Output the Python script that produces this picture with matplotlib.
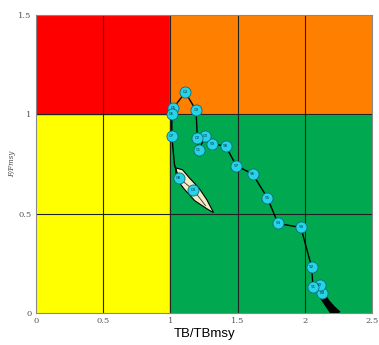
import matplotlib
matplotlib.use("Agg")
import matplotlib.pyplot as plt
from matplotlib.patches import Polygon

# stock trajectory (TB/TBmsy, F/Fmsy) with year labels
tb = [2.13, 2.11, 2.06, 2.05, 1.97, 1.80, 1.72, 1.61, 1.49, 1.41, 1.31,
      1.26, 1.21, 1.20, 1.19, 1.11, 1.02, 1.01, 1.01, 1.06, 1.17]
ff = [0.10, 0.14, 0.13, 0.23, 0.43, 0.45, 0.58, 0.70, 0.74, 0.84, 0.85,
      0.89, 0.82, 0.88, 1.02, 1.11, 1.03, 1.00, 0.89, 0.68, 0.62]
years = ["89", "90", "91", "92", "93", "94", "95", "96", "97", "98", "99",
         "00", "01", "02", "03", "04", "05", "06", "07", "08", "09"]

# early-years cloud (black) and final year uncertainty (cream)
early_tb = [2.09, 2.12, 2.14, 2.18, 2.22, 2.26, 2.23, 2.19, 2.15, 2.12, 2.10]
early_ff = [0.12, 0.12, 0.10, 0.06, 0.03, 0.005, 0.0, 0.0, 0.04, 0.07, 0.10]
final_tb = [1.04, 1.09, 1.14, 1.21, 1.27, 1.32, 1.28, 1.18, 1.10, 1.05, 1.04]
final_ff = [0.73, 0.72, 0.68, 0.63, 0.57, 0.505, 0.52, 0.565, 0.625, 0.67, 0.70]
lead_tb = [1.01, 1.03, 1.06]
lead_ff = [0.89, 0.745, 0.68]

fig = plt.figure(figsize=(3.79, 3.45), dpi=100)
ax = fig.add_axes([0.095, 0.093, 0.887, 0.864])

ax.axvspan(0, 1, 0, 1 / 1.5, color="#ffff00", zorder=0)
ax.axvspan(0, 1, 1 / 1.5, 1, color="#ff0000", zorder=0)
ax.axvspan(1, 2.5, 0, 1 / 1.5, color="#00a94f", zorder=0)
ax.axvspan(1, 2.5, 1 / 1.5, 1, color="#ff8000", zorder=0)

for x in [0.5, 1, 1.5, 2]:
    ax.axvline(x, color="#222222", lw=0.8, zorder=1)
for y in [0.5, 1]:
    ax.axhline(y, color="#222222", lw=0.8, zorder=1)

ax.add_patch(Polygon(list(zip(early_tb, early_ff)), closed=True,
                     facecolor="black", edgecolor="black", lw=0.8, zorder=3))
ax.add_patch(Polygon(list(zip(final_tb, final_ff)), closed=True,
                     facecolor="#f3ecc4", edgecolor="black", lw=0.8, zorder=3))
ax.plot(lead_tb[1:] + [1.17, 1.26], lead_ff[1:] + [0.62, 0.54],
        color="#333333", lw=0.6, zorder=3)

ax.plot(tb[:-2], ff[:-2], color="black", lw=1.0, zorder=4)
ax.plot(lead_tb, lead_ff, color="black", lw=1.0, zorder=4)
ax.plot(tb, ff, "o", ms=8, mfc="#27d3e6", mec="#0a6d80", mew=0.6, zorder=5)
for x, y, s in zip(tb, ff, years):
    ax.text(x, y, s, fontsize=3, ha="center", va="center", color="#0b3f55", zorder=6)

ax.set_xlim(0, 2.5)
ax.set_ylim(0, 1.5)
ax.set_xticks([0, 0.5, 1, 1.5, 2, 2.5])
ax.set_xticklabels(["0", "0.5", "1", "1.5", "2", "2.5"])
ax.set_yticks([0, 0.5, 1, 1.5])
ax.set_yticklabels(["0", "0.5", "1", "1.5"])
ax.tick_params(length=0, labelsize=6, labelcolor="#555555", pad=3)
for lab in ax.get_xticklabels() + ax.get_yticklabels():
    lab.set_family("DejaVu Serif")
for sp in ax.spines.values():
    sp.set_color("#888888")
    sp.set_linewidth(0.8)

ax.set_xlabel("TB/TBmsy", fontsize=9.5, family="Liberation Sans", labelpad=2)
ax.set_ylabel("F/Fmsy", fontsize=5, family="DejaVu Serif", style="italic",
              color="#444444", labelpad=2)

fig.savefig("out.png", dpi=100)
